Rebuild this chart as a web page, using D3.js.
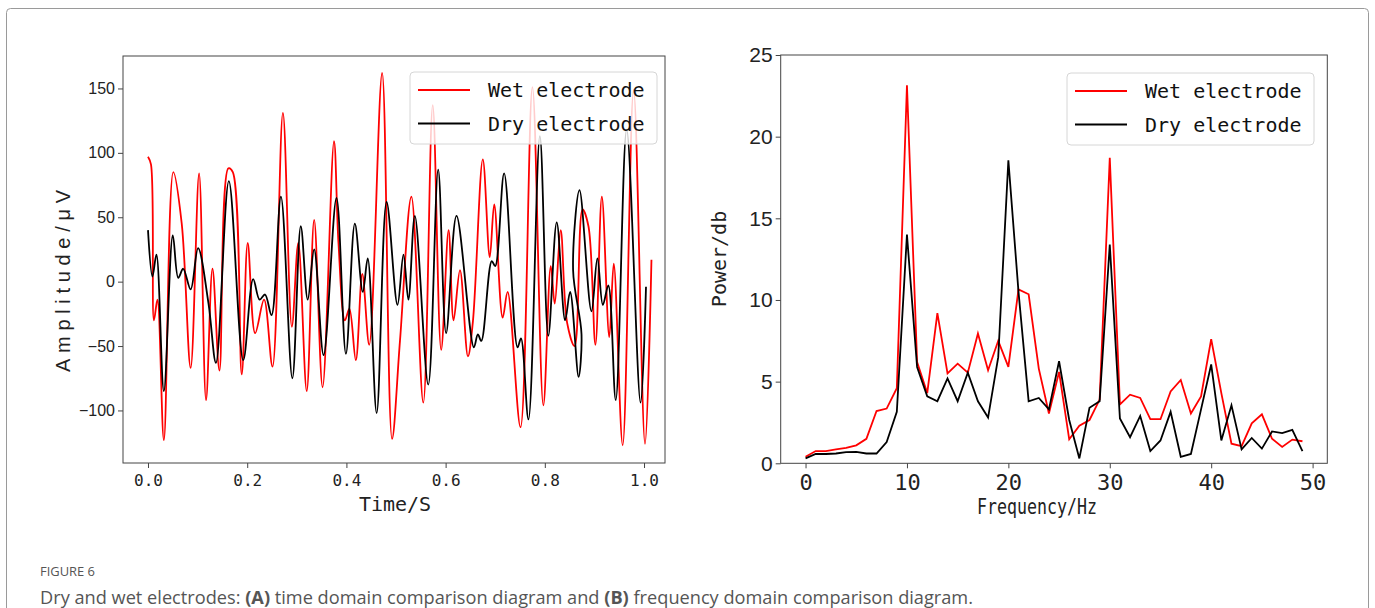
<!DOCTYPE html>
<html>
<head>
<meta charset="utf-8">
<script src="https://cdn.jsdelivr.net/npm/d3@7"></script>
<style>
  body { margin: 0; background: #fff; }
  svg { display: block; }
  .tick line { stroke: #444; }
  .mono { font-family: "DejaVu Sans Mono", "Liberation Mono", monospace; }
  .sans { font-family: "Liberation Sans", Arial, sans-serif; }
</style>
</head>
<body>
<svg id="fig" width="1375" height="608"></svg>
<script>
// ---- panel A : time domain (peaks and troughs) ----
const wetT = [0.000,0.006,0.012,0.019,0.032,0.051,0.068,0.086,0.103,0.117,0.130,0.144,0.162,0.171,0.189,0.201,0.216,0.234,0.251,
  0.272,0.290,0.303,0.320,0.335,0.352,0.375,0.384,0.397,0.406,0.419,0.432,0.446,0.472,0.492,0.508,0.531,0.555,0.574,0.591,
  0.606,0.616,0.629,0.645,0.655,0.675,0.689,0.698,0.715,0.725,0.751,0.775,0.797,0.812,0.820,0.832,0.845,0.860,0.876,0.888,
  0.902,0.915,0.930,0.939,0.957,0.979,1.002,1.015];
const wetV = [97,91,-30,-14,-123,85,45,-67,84,-92,10,-69,88,85,-72,30,-40,-14,-66,
  131,-35,30,-85,48,-82,109,30,-30,-21,-61,6,-49,162,-122,-46,66,-94,137,-53,
  40,-30,9,-58,-31,95,19,60,-28,-8,-113,151,-96,12,-17,40,-32,-50,56,43,
  -49,66,-43,14,-127,149,-126,17];

const dryT = [0.000,0.009,0.017,0.032,0.050,0.061,0.071,0.086,0.101,0.122,0.137,0.163,0.192,0.212,0.225,0.236,0.249,
  0.268,0.291,0.308,0.322,0.335,0.354,0.380,0.399,0.417,0.433,0.443,0.461,0.481,0.503,0.515,0.525,0.538,0.565,0.585,
  0.601,0.622,0.657,0.665,0.672,0.693,0.700,0.718,0.745,0.752,0.767,0.790,0.807,0.824,0.841,0.851,0.868,0.874,0.857,
  0.870,0.894,0.906,0.917,0.928,0.943,0.965,0.993,1.004];
const dryV = [40,4,21,-85,36,3,10,-6,26,-17,-63,78,-61,2,-14,-10,-26,
  66,-75,43,-14,25,-57,65,-56,45,-8,18,-102,62,-18,21,-14,51,-80,87,
  -40,51,-51,-41,-46,16,12,84,-51,-44,-107,113,-42,46,-30,-8,-74,-41,9,
  71,-23,18,-18,-3,-92,118,-94,-4];

const timeTicks = [0, 0.2, 0.4, 0.6, 0.8, 1.0];
const ampTicks = [-100, -50, 0, 50, 100, 150];

// ---- panel B : frequency domain ----
const freqHz = d3.range(0, 50);
const wetPower = [0.4,0.75,0.75,0.85,0.95,1.1,1.5,3.2,3.35,4.6,23.15,6.2,4.3,9.2,5.5,6.1,5.55,7.95,5.7,7.5,
  5.9,10.65,10.35,5.8,3.05,5.6,1.47,2.3,2.65,3.9,18.7,3.6,4.2,4.0,2.7,2.7,4.4,5.1,3.05,4.1,
  7.6,4.3,1.2,1.05,2.45,3.0,1.5,1.0,1.45,1.35];
const dryPower = [0.3,0.57,0.57,0.6,0.68,0.7,0.6,0.6,1.3,3.15,14.0,5.9,4.1,3.8,5.2,3.8,5.55,3.8,2.8,6.5,
  18.55,10.5,3.8,4.0,3.3,6.25,2.65,0.3,3.4,3.8,13.4,2.75,1.6,2.9,0.75,1.4,3.15,0.4,0.57,3.3,
  6.05,1.4,3.55,0.85,1.55,0.9,1.95,1.85,2.05,0.75];
const freqTicks = [0, 10, 20, 30, 40, 50];
const powTicks = [0, 5, 10, 15, 20, 25];

const seriesNames = ['Wet electrode', 'Dry electrode'];
const seriesColors = ['#ff0000', '#000000'];

const svg = d3.select('#fig');

// outer figure border
svg.append('rect').attr('x', 6.5).attr('y', 8.5).attr('width', 1362).attr('height', 640)
  .attr('rx', 4).attr('fill', 'none').attr('stroke', '#9a9a9a').attr('stroke-width', 1);

// ================= panel A =================
const xA = d3.scaleLinear().domain([-0.0504, 1.0423]).range([123, 665]);
const yA = d3.scaleLinear().domain([-140.8, 175.2]).range([463, 56]);

const gA = svg.append('g');

gA.append('g').attr('transform', 'translate(0,463)')
  .call(d3.axisBottom(xA).tickValues(timeTicks).tickFormat(d3.format('.1f')).tickSize(5).tickSizeOuter(0))
  .call(g => g.select('.domain').remove())
  .call(g => g.selectAll('text').attr('class', 'mono').attr('font-size', 16).attr('fill', '#222').attr('dy', '0.95em'));

gA.append('g').attr('transform', 'translate(123,0)')
  .call(d3.axisLeft(yA).tickValues(ampTicks).tickSize(5).tickSizeOuter(0))
  .call(g => g.select('.domain').remove())
  .call(g => g.selectAll('text').attr('class', 'sans').attr('font-size', 16).attr('fill', '#222'));

const lineA = (tt, vv) => d3.line()
  .x((d, i) => xA(tt[i])).y((d, i) => yA(vv[i]))
  .curve(d3.curveCatmullRom.alpha(0.5))(vv);

gA.append('path').attr('d', lineA(wetT, wetV)).attr('fill', 'none')
  .attr('stroke', seriesColors[0]).attr('stroke-width', 1.8).attr('stroke-linejoin', 'round');
gA.append('path').attr('d', lineA(dryT, dryV)).attr('fill', 'none')
  .attr('stroke', seriesColors[1]).attr('stroke-width', 1.8).attr('stroke-linejoin', 'round');

gA.append('rect').attr('x', 123).attr('y', 56).attr('width', 542).attr('height', 407)
  .attr('fill', 'none').attr('stroke', '#444').attr('stroke-width', 1);

gA.append('text').attr('class', 'mono').attr('x', 395).attr('y', 511)
  .attr('text-anchor', 'middle').attr('font-size', 20).attr('fill', '#222').text('Time/S');

gA.append('text').attr('class', 'sans')
  .attr('transform', 'translate(70,281) rotate(-90)')
  .attr('text-anchor', 'middle').attr('font-size', 20).attr('fill', '#222')
  .attr('textLength', 182).attr('lengthAdjust', 'spacing').text('Amplitude/μV');

// legend box with both series
function legend(g, x, y, w) {
  g.append('rect').attr('x', x).attr('y', y).attr('width', w).attr('height', 72)
    .attr('rx', 4).attr('fill', '#fff').attr('fill-opacity', 0.8).attr('stroke', '#d6d6d6');
  seriesNames.forEach((name, i) => {
    const cy = y + 18 + i * 33.5;
    g.append('line').attr('x1', x + 8).attr('x2', x + 60).attr('y1', cy).attr('y2', cy)
      .attr('stroke', seriesColors[i]).attr('stroke-width', 1.8);
    g.append('text').attr('class', 'mono').attr('x', x + 78).attr('y', cy + 7)
      .attr('font-size', 20).attr('fill', '#111').text(name);
  });
}
legend(gA, 410, 72, 247);

// ================= panel B =================
const xB = d3.scaleLinear().domain([-2.45, 51.45]).range([780.7, 1327.3]);
const yB = d3.scaleLinear().domain([0, 25]).range([463.3, 55]);

const gB = svg.append('g');

gB.append('g').attr('transform', 'translate(0,463.3)')
  .call(d3.axisBottom(xB).tickValues(freqTicks).tickSize(5).tickSizeOuter(0))
  .call(g => g.select('.domain').remove())
  .call(g => g.selectAll('text').attr('class', 'mono').attr('font-size', 22).attr('fill', '#222').attr('dy', '0.85em'));

gB.append('g').attr('transform', 'translate(780.7,0)')
  .call(d3.axisLeft(yB).tickValues(powTicks).tickSize(5).tickSizeOuter(0))
  .call(g => g.select('.domain').remove())
  .call(g => g.selectAll('text').attr('class', 'sans').attr('font-size', 21).attr('fill', '#222'));

const lineB = vals => d3.line().x((d, i) => xB(freqHz[i])).y(d => yB(d))(vals);

gB.append('path').attr('d', lineB(wetPower)).attr('fill', 'none')
  .attr('stroke', seriesColors[0]).attr('stroke-width', 1.8);
gB.append('path').attr('d', lineB(dryPower)).attr('fill', 'none')
  .attr('stroke', seriesColors[1]).attr('stroke-width', 1.8);

gB.append('rect').attr('x', 780.7).attr('y', 55).attr('width', 546.6).attr('height', 408.3)
  .attr('fill', 'none').attr('stroke', '#444').attr('stroke-width', 1);

gB.append('text').attr('class', 'mono').attr('x', 1037).attr('y', 514)
  .attr('text-anchor', 'middle').attr('font-size', 22).attr('fill', '#222')
  .attr('textLength', 120).attr('lengthAdjust', 'spacingAndGlyphs').text('Frequency/Hz');

gB.append('text').attr('class', 'mono')
  .attr('transform', 'translate(726,259) rotate(-90)')
  .attr('text-anchor', 'middle').attr('font-size', 20).attr('fill', '#222').text('Power/db');

legend(gB, 1067, 73, 247);

// ================= caption =================
svg.append('text').attr('x', 40).attr('y', 576)
  .attr('font-family', '"Open Sans", sans-serif').attr('font-size', 13).attr('fill', '#555')
  .attr('textLength', 55).attr('lengthAdjust', 'spacingAndGlyphs')
  .text('FIGURE 6');

const cap = svg.append('text').attr('x', 40).attr('y', 604)
  .attr('font-family', '"Open Sans", sans-serif').attr('font-size', 17.5).attr('fill', '#555')
  .attr('textLength', 933).attr('lengthAdjust', 'spacingAndGlyphs');
cap.append('tspan').text('Dry and wet electrodes: ');
cap.append('tspan').attr('font-weight', 'bold').text('(A)');
cap.append('tspan').text(' time domain comparison diagram and ');
cap.append('tspan').attr('font-weight', 'bold').text('(B)');
cap.append('tspan').text(' frequency domain comparison diagram.');
</script>
</body>
</html>
